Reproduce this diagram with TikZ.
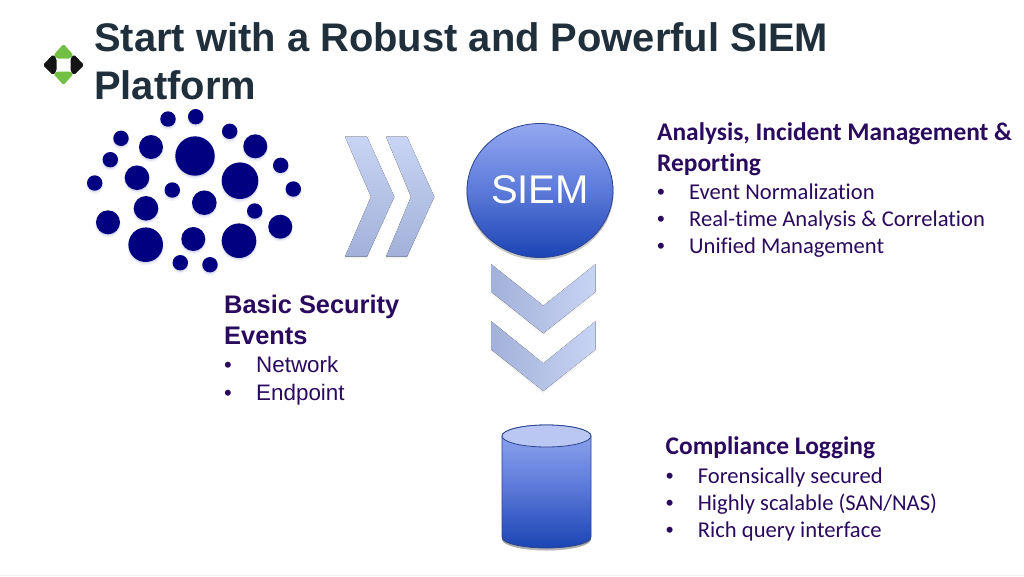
\documentclass[tikz,border=0pt]{standalone}
\usepackage{fontspec}
\setmainfont{Liberation Sans}
\newfontfamily\carlito[Ligatures=NoCommon]{Carlito}
\usetikzlibrary{shapes.geometric}
\definecolor{titlecol}{HTML}{1F2F3C}
\definecolor{txtcol}{HTML}{2A0A5E}
\definecolor{dotcol}{HTML}{000080}
\definecolor{dotshadow}{HTML}{8088C8}
\definecolor{edgecol}{HTML}{2A4590}
\definecolor{greenlogo}{HTML}{72BF44}
\definecolor{blacklogo}{HTML}{141414}
\definecolor{chevlight}{HTML}{C8D4F4}
\definecolor{chevdark}{HTML}{A2B1D9}
\definecolor{gradtop}{HTML}{93A8F0}
\definecolor{gradmid}{HTML}{5C7AD9}
\definecolor{gradbot}{HTML}{1B44B4}
\definecolor{captop}{HTML}{B9C7F2}
\definecolor{shade}{HTML}{9A9A9A}
\tikzset{
  title/.style={anchor=base west,inner sep=0,font=\bfseries\fontsize{39.9}{39.9}\selectfont,text=titlecol},
  head/.style={anchor=base west,inner sep=0,font=\carlito\bfseries\fontsize{25.4}{25.4}\selectfont,text=txtcol},
  item/.style={anchor=base west,inner sep=0,font=\carlito\fontsize{22.6}{22.6}\selectfont,text=txtcol},
  headl/.style={anchor=base west,inner sep=0,font=\bfseries\fontsize{25.4}{25.4}\selectfont,text=txtcol},
  iteml/.style={anchor=base west,inner sep=0,font=\fontsize{22.4}{22.4}\selectfont,text=txtcol},
  chevr/.style={top color=chevlight,bottom color=chevdark,draw=none},
  chevd/.style={left color=chevdark,right color=chevlight,draw=none},
  chevshadow/.style={fill=shade,opacity=.12},
  grad/.style={top color=gradtop,bottom color=gradbot,middle color=gradmid},
}
\newcommand{\blt}[1]{\makebox[32pt][l]{\rmfamily\fontsize{22}{22}\selectfont•}#1}
\newcommand{\dotc}[3]{%
  \fill[dotshadow,opacity=.1] (#1,#2+2.5) circle (#3+.8);
  \fill[dotshadow,opacity=.2] (#1,#2+1.5) circle (#3+.1);
  \fill[dotcol] (#1,#2) circle (#3);}
\begin{document}
\begin{tikzpicture}[x=1pt,y=-1pt]
\useasboundingbox (0,0) rectangle (1024,576);
\fill[white] (0,0) rectangle (1024,576);
\fill[black!6] (0,574.8) rectangle (1024,576);
% logo
\fill[greenlogo,rounded corners=1.5] (63.5,44) -- (73.5,55) -- (70,58.5) -- (57,58.5) -- (53.5,55) -- cycle;
\fill[greenlogo,rounded corners=1.5] (63.5,85) -- (73.5,74) -- (70,71.5) -- (57,71.5) -- (53.5,74) -- cycle;
\fill[blacklogo,rounded corners=1.5] (43,65) -- (53,54.5) -- (56.5,58.5) -- (56.5,71) -- (53,75) -- cycle;
\fill[blacklogo,rounded corners=1.5] (84,65) -- (74,54.5) -- (70.5,58.5) -- (70.5,71) -- (74,75) -- cycle;
% title
\node[title] (t1) at (94,51) {Start with a Robust and Powerful SIEM};
\node[title] (t2) at (94,99) {Platform};
% dots
\dotc{168}{119}{7.7}\dotc{195.7}{116.7}{7.7}\dotc{229.7}{131.3}{7.7}\dotc{121}{138.3}{7.7}
\dotc{151}{147}{12}\dotc{195}{156}{19.7}\dotc{255.3}{146.3}{12}\dotc{280.7}{165.3}{7.7}
\dotc{110.3}{159.7}{7.7}\dotc{137}{177.7}{12.3}\dotc{240}{180.7}{18.3}\dotc{94.7}{183}{7.7}
\dotc{293.3}{189}{7.7}\dotc{172.3}{190}{7.7}\dotc{204.3}{202.7}{12.3}\dotc{254.7}{211}{7.7}
\dotc{146}{208.3}{12.3}\dotc{108}{222.3}{12}\dotc{280.3}{226.7}{12}\dotc{145.7}{244.7}{17.3}
\dotc{193.3}{239}{12}\dotc{239}{240.7}{17.3}\dotc{180.3}{262.7}{7.7}\dotc{210}{264.7}{7.7}
% right chevrons
\fill[chevshadow] (345,138.5) -- (367,138.5) -- (394.3,198.5) -- (367,258.5) -- (345,258.5) -- (371,198.5) -- cycle;
\fill[chevshadow] (386,138.5) -- (407,138.5) -- (434.3,198.5) -- (407,258.5) -- (386,258.5) -- (411,198.5) -- cycle;
\fill[chevr] (345,136.7) -- (367,136.7) -- (394.3,196.7) -- (367,256.7) -- (345,256.7) -- (371,196.7) -- cycle;
\fill[chevr] (386,136.7) -- (407,136.7) -- (434.3,196.7) -- (407,256.7) -- (386,256.7) -- (411,196.7) -- cycle;
% down chevrons
\fill[chevshadow] (491,266) -- (543.3,307.7) -- (595.7,266) -- (595.7,293.7) -- (543.3,335.3) -- (491,293.7) -- cycle;
\fill[chevshadow] (491,323) -- (543.3,365.3) -- (595.7,323) -- (595.7,351.3) -- (543.3,393) -- (491,351.3) -- cycle;
\fill[chevd] (491,264) -- (543.3,305.7) -- (595.7,264) -- (595.7,291.7) -- (543.3,333.3) -- (491,291.7) -- cycle;
\fill[chevd] (491,321) -- (543.3,363.3) -- (595.7,321) -- (595.7,349.3) -- (543.3,391) -- (491,349.3) -- cycle;
% SIEM circle
\fill[shade,opacity=.3] (540,192.5) ellipse (73.5 and 67.5);
\node[ellipse,minimum width=146pt,minimum height=134pt,inner sep=0,draw=edgecol,line width=.8pt,grad,draw opacity=1] (siem) at (540,190.5) {};
\node[anchor=base,inner sep=0,text=white,font=\fontsize{40}{40}\selectfont] (siemlabel) at (540,203) {SIEM};
% cylinder
\fill[shade,opacity=.45] (502,539) arc[start angle=180,end angle=0,x radius=44.5,y radius=11.5] -- cycle;
\path[draw=edgecol,line width=.8pt,grad] (502,436) -- (502,537) arc[start angle=180,end angle=0,x radius=44.5,y radius=11] -- (591,436) arc[start angle=360,end angle=180,x radius=44.5,y radius=11] -- cycle;
\draw[edgecol,line width=.8pt,fill=captop] (546.5,436) ellipse (44.5 and 11);
% right text
\node[head] (h1a) at (657,140) {Analysis, Incident Management \&};
\node[head] (h1b) at (657,171) {Reporting};
\node[item] (i1) at (657,199) {\blt{Event Normalization}};
\node[item] (i2) at (657,226) {\blt{Real-time Analysis \& Correlation}};
\node[item] (i3) at (657,253) {\blt{Unified Management}};
% left text
\node[headl] (h2a) at (224,313) {Basic Security};
\node[headl] (h2b) at (224,344) {Events};
\node[iteml] (j1) at (224,372) {\blt{Network}};
\node[iteml] (j2) at (224,400) {\blt{Endpoint}};
% bottom text
\node[head] (h3) at (665.5,454) {Compliance Logging};
\node[item] (k1) at (665.7,483) {\blt{Forensically secured}};
\node[item] (k2) at (665.7,510) {\blt{Highly scalable (SAN/NAS)}};
\node[item] (k3) at (665.7,537) {\blt{Rich query interface}};
\end{tikzpicture}
\end{document}
